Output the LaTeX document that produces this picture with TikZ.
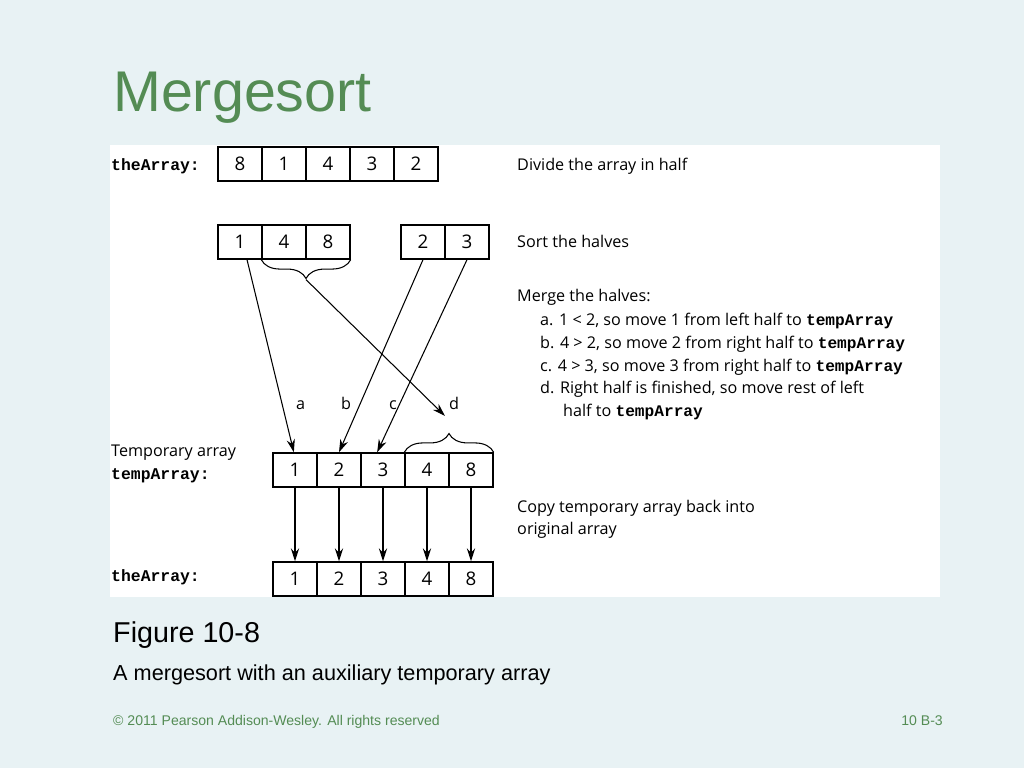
\documentclass[tikz,border=0pt]{standalone}
\usepackage{fontspec}
\setmainfont{Liberation Sans}
\newfontfamily\figfont{Open Sans}
\setmonofont{Liberation Mono}
\usetikzlibrary{decorations.pathreplacing,arrows.meta}
\definecolor{slidebg}{RGB}{232,242,244}
\definecolor{slidegreen}{RGB}{84,140,84}
\tikzstyle{cell} = [rectangle, draw=black, line width=1.2pt, minimum width=1.32cm, minimum height=1.02cm, inner sep=0pt, font=\figfont\fontsize{16}{18}\selectfont]
\tikzstyle{txt} = [anchor=base west, inner sep=0pt, font=\figfont\fontsize{13.8}{16}\selectfont]
\tikzstyle{mono} = [anchor=base west, inner sep=0pt, font=\ttfamily\bfseries\fontsize{14}{16}\selectfont]
\tikzstyle{arrow} = [line width=0.9pt,-{Stealth[length=11pt,width=7pt]}]
\tikzstyle{brace} = [line width=0.9pt, decorate, decoration={brace, amplitude=16pt}]
\begin{document}
\begin{tikzpicture}[x=0.03cm, y=-0.03cm]
        \fill[slidebg] (0,0) rectangle (1024,768);
        \useasboundingbox (0,0) rectangle (1024,768);
        \fill[white] (110,145) rectangle (940,597);
        \node[anchor=base west, inner sep=0pt, text=slidegreen, font=\fontsize{49}{54}\selectfont] (title) at (113,112) {Mergesort};
        % arrays
        \foreach \v [count=\i] in {8,1,4,3,2}
          \node[cell] (a\i) at (196+44*\i,164) {\v};
        \foreach \v [count=\i] in {1,4,8}
          \node[cell] (l\i) at (196+44*\i,242) {\v};
        \foreach \v [count=\i] in {2,3}
          \node[cell] (r\i) at (379+44*\i,242) {\v};
        \foreach \v [count=\i] in {1,2,3,4,8}
          \node[cell] (t\i) at (251+44*\i,470) {\v};
        \foreach \v [count=\i] in {1,2,3,4,8}
          \node[cell] (b\i) at (251+44*\i,579) {\v};
        % braces
        \draw[brace] (l3.south east) -- (l2.south west) coordinate[midway, yshift=-17pt] (lrest);
        \draw[brace] (t4.north west) -- (t5.north east) coordinate[midway, yshift=17pt] (trest);
        % merge arrows
        \coordinate (dend) at (445,416);
        \draw[arrow] ([xshift=6pt]l1.south) -- ([xshift=-1pt]t1.north);
        \draw[arrow] (r1.south) -- (t2.north);
        \draw[arrow] (r2.south) -- ([xshift=-5pt]t3.north);
        \draw[arrow] (lrest) -- (dend);
        \node[txt] (la) at (296,410) {a};
        \node[txt] (lb) at (341,410) {b};
        \node[txt] (lc) at (389,410) {c};
        \node[txt] (ld) at (449,410) {d};
        % copy back
        \foreach \i in {1,...,5}
          \draw[arrow] (t\i.south) -- (b\i.north);
        % left labels
        \node[mono] (n1) at (111,171) {theArray:};
        \node[txt] (n2) at (111,457) {Temporary array};
        \node[mono] (n3) at (111,480) {tempArray:};
        \node[mono] (n4) at (111,582) {theArray:};
        % right text
        \node[txt] (s1) at (517,171) {Divide the array in half};
        \node[txt] (s2) at (517,248) {Sort the halves};
        \node[txt] (s3) at (517,302) {Merge the halves:};
        \node[txt] (s4) at (540,326) {a. 1 < 2, so move 1 from left half to \texttt{\textbf{tempArray}}};
        \node[txt] (s5) at (540,349) {b. 4 > 2, so move 2 from right half to \texttt{\textbf{tempArray}}};
        \node[txt] (s6) at (540,372) {c. 4 > 3, so move 3 from right half to \texttt{\textbf{tempArray}}};
        \node[txt] (s7) at (540,394) {d. Right half is finished, so move rest of left};
        \node[txt] (s8) at (563,417) {half to \texttt{\textbf{tempArray}}};
        \node[txt] (s9) at (517,513) {Copy temporary array back into};
        \node[txt] (s10) at (517,535) {original array};
        % caption
        \node[anchor=base west, inner sep=0pt, font=\fontsize{24.5}{28}\selectfont] (fig) at (113,642) {Figure 10-8};
        \node[anchor=base west, inner sep=0pt, font=\fontsize{18.5}{22}\selectfont] (cap) at (113,680) {A mergesort with an auxiliary temporary array};
        \node[anchor=base west, inner sep=0pt, text=slidegreen, font=\fontsize{12}{14}\selectfont] (copy) at (113,725) {© 2011 Pearson Addison-Wesley. All rights reserved};
        \node[anchor=base east, inner sep=0pt, text=slidegreen, font=\fontsize{12}{14}\selectfont] (page) at (943,725) {10 B-3};
\end{tikzpicture}
\end{document}
